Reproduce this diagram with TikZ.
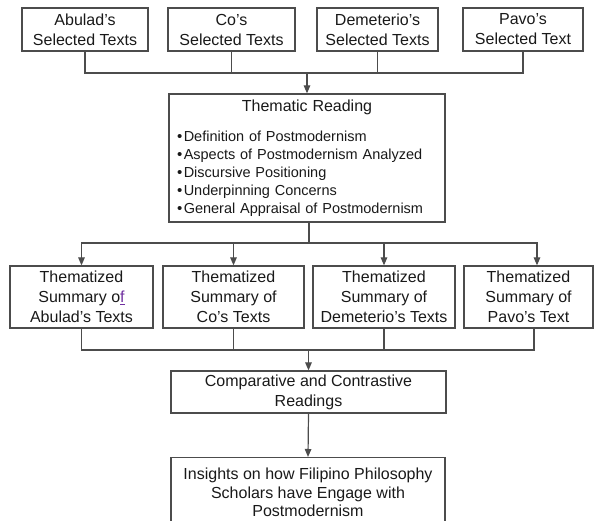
\documentclass[tikz,border=0pt]{standalone}
\usepackage{fontspec}
\setmainfont{Liberation Sans}
\usepackage{xcolor}
\usetikzlibrary{positioning,arrows.meta,calc}

\definecolor{linkpurple}{HTML}{7030A0}
\newcommand{\themeitem}{\raisebox{0pt}{\fontsize{15}{15}\selectfont\textbullet}\hspace{1.5pt}}

\begin{document}
\begin{tikzpicture}[
    x=1pt, y=-1pt,
    >={Triangle[length=8pt,width=6.5pt]},
    box/.style={rectangle, draw=black!70, line width=1.2pt, align=center, inner sep=2pt,
        text=black!90, font=\fontsize{16}{20}\selectfont},
    link/.style={draw=black!70, line width=1.2pt}
]
\useasboundingbox (0,0) rectangle (595,521);

% Selected texts of each scholar
\node[box, minimum width=126pt, minimum height=43pt] (selA) at (85,29.5) {Abulad’s\\Selected Texts};
\node[box, minimum width=127pt, minimum height=43pt] (selC) at (231.5,29.5) {Co’s\\Selected Texts};
\node[box, minimum width=121pt, minimum height=43pt] (selD) at (377.5,29.5) {Demeterio’s\\Selected Texts};
\node[box, minimum width=120pt, minimum height=43pt] (selP) at (523,29.5) {Pavo’s\\Selected Text};
\coordinate (bus1) at (307,73);
\draw[link] (selA.south) |- (bus1) -| (selP.south);
\draw[link] (selC.south) -- (selC.south |- bus1);
\draw[link] (selD.south) -- (selD.south |- bus1);

% Thematic reading
\node[box, minimum width=276pt, minimum height=128pt, text width=260pt, inner xsep=8pt,
    align=left, font=\fontsize{14.5}{18}\selectfont] (theme) at (307,158)
    {\makebox[260pt]{\fontsize{16}{20}\selectfont Thematic Reading}\\[12pt]
     \themeitem Definition of Postmodernism\\
     \themeitem Aspects of Postmodernism Analyzed\\
     \themeitem Discursive Positioning\\
     \themeitem Underpinning Concerns\\
     \themeitem General Appraisal of Postmodernism};
\draw[link,->] (bus1) -- (theme.north);

% Thematized summaries
\node[box, minimum width=143pt, minimum height=62pt] (sumA) at (81.5,297) {Thematized\\Summary o\textcolor{linkpurple}{\underline{f}}\\Abulad’s Texts};
\node[box, minimum width=141pt, minimum height=62pt] (sumC) at (233.5,297) {Thematized\\Summary of\\Co’s Texts};
\node[box, minimum width=142pt, minimum height=62pt] (sumD) at (384,297) {Thematized\\Summary of\\Demeterio’s Texts};
\node[box, minimum width=129pt, minimum height=62pt] (sumP) at (528.5,297) {Thematized\\Summary of\\Pavo’s Text};
\coordinate (bus2) at (309,243);
\draw[link] (theme.south -| bus2) -- (bus2);
\draw[link,->] (bus2) -| (sumA.north);
\draw[link,->] (bus2) -| ([xshift=8.5pt]sumP.north);
\draw[link,->] (sumC.north |- bus2) -- (sumC.north);
\draw[link,->] (sumD.north |- bus2) -- (sumD.north);

% Comparison
\node[box, minimum width=275pt, minimum height=42pt] (comp) at (308.5,392) {Comparative and Contrastive\\Readings};
\coordinate (bus3) at (308.5,350);
\draw[link] (sumA.south) |- (bus3) -| ([xshift=5.5pt]sumP.south);
\draw[link] (sumC.south) -- (sumC.south |- bus3);
\draw[link] (sumD.south) -- (sumD.south |- bus3);
\draw[link,->] (bus3) -- (comp.north);

% Insights
\node[box, minimum width=274pt, minimum height=70pt, anchor=north,
    font=\fontsize{16}{18.5}\selectfont] (insight) at (308,457)
    {Insights on how Filipino Philosophy\\Scholars have Engage with\\Postmodernism};
\draw[link,->] (comp.south) -- (insight.north);
\end{tikzpicture}
\end{document}
